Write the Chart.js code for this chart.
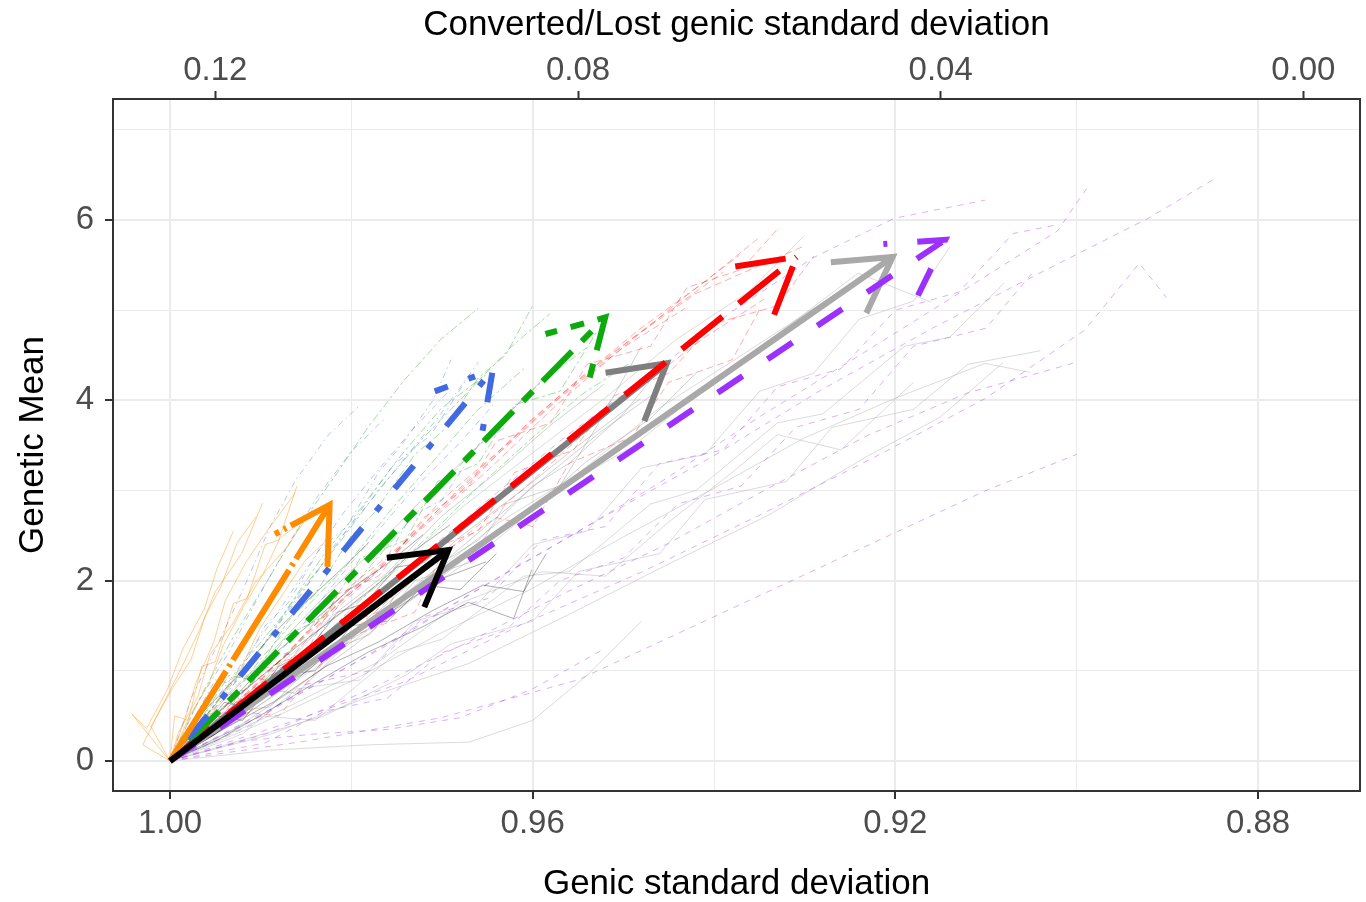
<!DOCTYPE html>
<html>
<head>
<meta charset="utf-8">
<script src="https://cdn.jsdelivr.net/npm/chart.js@4.4.0/dist/chart.umd.min.js"></script>
<style>
  html, body { margin: 0; padding: 0; background: #fff; }
  #wrap { width: 1366px; height: 902px; }
</style>
</head>
<body>
<div id="wrap"><canvas id="genChart"></canvas></div>
<script>
// tick values
const xMajorTicks = [0.88, 0.92, 0.96, 1.00];
const xMinorTicks = [0.90, 0.94, 0.98];
const topTicks = [0.00, 0.04, 0.08, 0.12];
const yMajorTicks = [0, 2, 4, 6];
const yMinorTicks = [1, 3, 5, 7];

// thick arrows: all start at (1, 0)
const arrowNames = ['lightgray', 'darkgray', 'purple', 'red', 'green', 'blue', 'orange', 'black'];
const arrowStart = [1.00, 0];
const arrowEndX = [0.9203, 0.9452, 0.9145, 0.9309, 0.9520, 0.9644, 0.9824, 0.9693];
const arrowEndY = [5.59, 4.41, 5.78, 5.59, 4.92, 4.34, 2.84, 2.34];

// thin replicate trajectories, [genic sd, genetic mean]
const lightGrayRuns = [
  [[1,0],[0.9911,0.61],[0.9821,1.28],[0.9731,1.91],[0.9641,2.62],[0.9551,3.18],[0.9461,3.91],[0.9371,4.49],[0.9281,5.08],[0.9201,5.62]],
  [[1,0],[0.9901,0.41],[0.9801,0.88],[0.9701,1.42],[0.9601,1.91],[0.9501,2.48],[0.9401,3.02],[0.9301,3.58],[0.9201,4.02],[0.9101,4.41],[0.9051,4.31]],
  [[1,0],[0.9921,0.69],[0.9841,1.41],[0.9761,2.02],[0.9681,2.79],[0.9601,3.41],[0.9521,4.02],[0.9441,4.68],[0.9361,5.21],[0.9301,5.82]],
  [[1,0],[0.9891,0.29],[0.9781,0.71],[0.9671,1.08],[0.9561,1.62],[0.9451,2.18],[0.9341,2.72],[0.9231,3.38],[0.9151,3.81],[0.9081,4.42]],
  [[1,0],[0.9916,0.52],[0.9831,1.09],[0.9746,1.71],[0.9661,2.28],[0.9571,3.02],[0.9491,3.48],[0.9401,4.21],[0.9311,4.88],[0.9241,5.41],[0.9161,5.09]],
  [[1,0],[0.9890,0.12],[0.9780,0.18],[0.9670,0.21],[0.9600,0.45],[0.9540,0.95],[0.9480,1.55]],
  [[1,0],[0.9880,0.55],[0.9770,1.10],[0.9680,1.75],[0.9590,2.10],[0.9520,2.05],[0.9450,2.65],[0.9380,3.20],[0.9330,3.62],[0.9260,3.45],[0.9180,4.20]],
  [[1,0],[0.9900,0.50],[0.9840,0.45],[0.9750,1.20],[0.9700,1.35],[0.9610,2.05],[0.9560,2.10],[0.9470,2.85],[0.9420,3.00],[0.9330,3.75],[0.9280,3.85],[0.9190,4.60],[0.9140,4.70],[0.9080,5.30]],
  [[1,0],[0.9880,0.35],[0.9830,0.50],[0.9740,0.95],[0.9690,1.30],[0.9600,1.55],[0.9550,2.10],[0.9460,2.30],[0.9410,2.90],[0.9320,3.10],[0.9270,3.70],[0.9180,3.90],[0.9120,4.40],[0.9040,4.55]],
  [[1,0],[0.9920,0.30],[0.9860,0.80],[0.9790,0.90],[0.9730,1.55],[0.9660,1.75],[0.9600,2.40],[0.9540,2.55],[0.9480,3.25],[0.9410,3.40],[0.9350,4.10],[0.9290,4.30],[0.9240,4.90],[0.9180,5.10],[0.9140,5.70]]
];
const darkGrayRuns = [
  [[1,0],[0.9941,0.51],[0.9881,0.98],[0.9821,1.61],[0.9761,2.08],[0.9701,2.71],[0.9641,3.19],[0.9581,3.72],[0.9521,4.18]],
  [[1,0],[0.9936,0.39],[0.9871,0.91],[0.9801,1.38],[0.9741,1.92],[0.9681,2.48],[0.9611,3.01],[0.9551,3.49],[0.9481,4.02]],
  [[1,0],[0.9946,0.62],[0.9891,1.18],[0.9836,1.76],[0.9781,2.29],[0.9721,2.91],[0.9661,3.48],[0.9611,4.02],[0.9561,4.49]],
  [[1,0],[0.9931,0.34],[0.9861,0.81],[0.9796,1.29],[0.9731,1.81],[0.9666,2.31],[0.9601,2.78],[0.9541,3.32],[0.9471,3.79],[0.9420,4.30]],
  [[1,0],[0.9925,0.45],[0.9855,0.95],[0.9788,1.48],[0.9720,2.02],[0.9652,2.60],[0.9590,3.12],[0.9525,3.65],[0.9460,4.12]],
  [[1,0],[0.9950,0.30],[0.9900,0.80],[0.9860,0.75],[0.9800,1.35],[0.9760,1.60],[0.9700,2.20],[0.9660,2.45],[0.9600,3.05],[0.9560,3.30],[0.9500,3.85],[0.9460,4.35]],
  [[1,0],[0.9930,0.55],[0.9890,0.60],[0.9830,1.20],[0.9780,1.40],[0.9730,2.00],[0.9670,2.20],[0.9630,2.85],[0.9570,3.05],[0.9530,3.70],[0.9480,4.60]]
];
const purpleRuns = [
  [[1,0],[0.9881,0.62],[0.9761,1.28],[0.9641,2.02],[0.9521,2.71],[0.9401,3.38],[0.9281,4.12],[0.9161,4.79],[0.9041,5.41],[0.8921,6.02],[0.8849,6.45]],
  [[1,0],[0.9901,0.49],[0.9791,1.12],[0.9681,1.78],[0.9571,2.42],[0.9461,3.08],[0.9351,3.81],[0.9241,4.49],[0.9131,5.18],[0.9021,5.88],[0.8989,6.35]],
  [[1,0],[0.9871,0.42],[0.9741,0.88],[0.9611,1.52],[0.9481,2.09],[0.9351,2.72],[0.9221,3.38],[0.9101,4.02],[0.8991,4.78],[0.8931,5.52],[0.8901,5.14]],
  [[1,0],[0.9891,0.31],[0.9781,0.79],[0.9671,1.32],[0.9561,1.88],[0.9451,2.41],[0.9341,3.02],[0.9231,3.61],[0.9121,4.08],[0.9001,4.42]],
  [[1,0],[0.9921,0.71],[0.9831,1.38],[0.9741,2.12],[0.9651,2.88],[0.9561,3.62],[0.9471,4.28],[0.9381,4.98],[0.9291,5.58],[0.9201,6.02],[0.9101,6.22]],
  [[1,0],[0.9851,0.22],[0.9701,0.48],[0.9550,0.90],[0.9400,1.60],[0.9250,2.30],[0.9100,3.00],[0.9000,3.40]],
  [[1,0],[0.9920,0.22],[0.9840,0.30],[0.9760,0.35],[0.9680,0.48],[0.9600,0.80],[0.9520,1.25]],
  [[1,0],[0.9910,0.40],[0.9850,0.85],[0.9780,1.00],[0.9720,1.60],[0.9650,1.80],[0.9590,2.45],[0.9520,2.60],[0.9460,3.30],[0.9390,3.45],[0.9330,4.15],[0.9260,4.35],[0.9200,5.00],[0.9130,5.20],[0.9070,5.85],[0.9020,5.95]],
  [[1,0],[0.9895,0.20],[0.9830,0.55],[0.9760,0.70],[0.9700,1.20],[0.9630,1.45],[0.9570,2.00],[0.9500,2.25],[0.9440,2.85],[0.9370,3.05],[0.9310,3.70],[0.9240,3.90],[0.9180,4.60],[0.9100,4.80],[0.9050,5.40]]
];
const redRuns = [
  [[1,0],[0.9931,0.61],[0.9862,1.28],[0.9791,1.92],[0.9722,2.58],[0.9651,3.21],[0.9581,3.88],[0.9512,4.49],[0.9441,5.08],[0.9372,5.61]],
  [[1,0],[0.9941,0.52],[0.9871,1.09],[0.9812,1.78],[0.9742,2.41],[0.9681,3.02],[0.9612,3.68],[0.9551,4.22],[0.9482,4.79],[0.9411,5.31],[0.9352,5.79]],
  [[1,0],[0.9921,0.68],[0.9851,1.41],[0.9776,2.08],[0.9711,2.72],[0.9641,3.38],[0.9571,4.02],[0.9501,4.58],[0.9432,5.02]],
  [[1,0],[0.9951,0.41],[0.9891,0.98],[0.9831,1.61],[0.9762,2.19],[0.9702,2.88],[0.9631,3.49],[0.9562,4.11],[0.9491,4.68],[0.9421,5.18],[0.9301,5.71]],
  [[1,0],[0.9936,0.64],[0.9866,1.22],[0.9801,1.94],[0.9731,2.51],[0.9666,3.12],[0.9601,3.79],[0.9531,4.38],[0.9461,4.91],[0.9390,5.42]],
  [[1,0],[0.9946,0.33],[0.9880,0.82],[0.9815,1.30],[0.9748,1.88],[0.9680,2.45],[0.9612,3.00],[0.9545,3.62],[0.9478,4.18],[0.9410,4.70],[0.9345,5.12]],
  [[1,0],[0.9960,0.35],[0.9905,0.92],[0.9870,0.85],[0.9820,1.45],[0.9760,1.70],[0.9725,2.30],[0.9660,2.55],[0.9620,3.20],[0.9555,3.45],[0.9510,4.05],[0.9450,4.30],[0.9400,4.85],[0.9330,5.05],[0.9290,5.60]],
  [[1,0],[0.9925,0.55],[0.9880,0.50],[0.9830,1.10],[0.9795,1.40],[0.9730,1.65],[0.9700,2.30],[0.9640,2.70],[0.9600,2.60],[0.9560,3.30],[0.9490,3.60],[0.9450,4.20],[0.9380,4.45],[0.9350,5.00]],
  [[1,0],[0.9950,0.60],[0.9915,0.95],[0.9850,1.20],[0.9815,1.85],[0.9770,2.05],[0.9720,2.70],[0.9670,3.05],[0.9640,3.55],[0.9580,3.75],[0.9540,4.40],[0.9470,4.60],[0.9430,5.25],[0.9370,5.45],[0.9330,5.90]]
];
const greenRuns = [
  [[1,0],[0.9951,0.62],[0.9904,1.19],[0.9861,1.82],[0.9814,2.41],[0.9769,3.02],[0.9721,3.58],[0.9669,4.12],[0.9622,4.61],[0.9581,4.96]],
  [[1,0],[0.9961,0.48],[0.9921,1.06],[0.9876,1.61],[0.9831,2.28],[0.9789,2.81],[0.9746,3.38],[0.9701,3.91],[0.9652,4.28]],
  [[1,0],[0.9941,0.46],[0.9891,0.94],[0.9842,1.52],[0.9791,2.02],[0.9741,2.61],[0.9689,3.18],[0.9641,3.72],[0.9592,4.19],[0.9541,4.58]],
  [[1,0],[0.9966,0.72],[0.9931,1.36],[0.9892,2.01],[0.9856,2.62],[0.9816,3.19],[0.9781,3.71],[0.9742,4.22],[0.9701,4.68],[0.9660,5.02]],
  [[1,0],[0.9946,0.51],[0.9901,1.12],[0.9852,1.68],[0.9806,2.16],[0.9756,2.79],[0.9711,3.31],[0.9662,3.88],[0.9610,4.35]],
  [[1,0],[0.9936,0.42],[0.9880,0.96],[0.9825,1.44],[0.9770,1.98],[0.9712,2.52],[0.9658,3.06],[0.9601,3.58],[0.9548,4.05],[0.9495,4.40]],
  [[1,0],[0.9970,0.40],[0.9935,0.95],[0.9910,0.90],[0.9870,1.55],[0.9840,1.85],[0.9800,2.50],[0.9775,2.75],[0.9730,3.40],[0.9700,3.65],[0.9660,4.25],[0.9630,4.50],[0.9600,5.05]],
  [[1,0],[0.9945,0.70],[0.9915,0.80],[0.9870,1.40],[0.9830,1.60],[0.9790,2.25],[0.9740,2.45],[0.9705,3.10],[0.9660,3.30],[0.9620,3.95],[0.9570,4.10],[0.9530,4.75]]
];
const blueRuns = [
  [[1,0],[0.9962,0.51],[0.9921,1.08],[0.9883,1.62],[0.9846,2.18],[0.9812,2.71],[0.9771,3.22],[0.9732,3.68],[0.9691,4.12]],
  [[1,0],[0.9971,0.62],[0.9936,1.19],[0.9902,1.83],[0.9871,2.38],[0.9839,2.91],[0.9801,3.42],[0.9762,3.81]],
  [[1,0],[0.9951,0.41],[0.9906,0.92],[0.9861,1.41],[0.9822,1.93],[0.9776,2.49],[0.9731,3.02],[0.9682,3.51],[0.9641,3.98]],
  [[1,0],[0.9976,0.71],[0.9946,1.32],[0.9916,1.98],[0.9889,2.61],[0.9861,3.12],[0.9826,3.61],[0.9790,3.95]],
  [[1,0],[0.9956,0.56],[0.9914,1.02],[0.9871,1.66],[0.9836,2.12],[0.9791,2.76],[0.9754,3.28],[0.9712,3.62],[0.9668,4.31]],
  [[1,0],[0.9966,0.38],[0.9930,0.85],[0.9891,1.37],[0.9855,1.85],[0.9818,2.40],[0.9779,2.88],[0.9741,3.36],[0.9705,3.80],[0.9660,4.42]],
  [[1,0],[0.9975,0.45],[0.9950,0.90],[0.9930,0.85],[0.9895,1.50],[0.9870,1.75],[0.9835,2.35],[0.9805,2.60],[0.9770,3.20],[0.9745,3.50],[0.9710,4.00],[0.9690,4.45]],
  [[1,0],[0.9955,0.30],[0.9920,0.75],[0.9880,1.20],[0.9850,1.15],[0.9810,1.80],[0.9770,2.10],[0.9735,2.70],[0.9700,2.90],[0.9660,3.50],[0.9630,3.70]]
];
const orangeRuns = [
  [[1,0],[0.9985,0.42],[0.9971,0.88],[0.9952,1.31],[0.9939,1.78],[0.9916,2.21],[0.9891,2.58],[0.9862,2.97]],
  [[1,0],[0.9991,0.31],[0.9969,0.72],[0.9956,1.18],[0.9931,1.52],[0.9906,1.98],[0.9872,2.36],[0.9843,2.79]],
  [[1,0],[1.0021,0.38],[0.9996,0.83],[0.9977,1.12],[0.9961,1.61],[0.9944,1.93],[0.9926,2.42],[0.9905,2.71]],
  [[1,0],[0.9979,0.49],[0.9957,0.86],[0.9941,1.29],[0.9919,1.71],[0.9897,2.08],[0.9879,2.47],[0.9851,2.68]],
  [[1,0],[1.0042,0.52],[1.0026,0.36],[1.0003,0.79],[0.9986,1.24],[0.9962,1.69],[0.9948,2.14],[0.9930,2.55]],
  [[1,0],[0.9976,0.26],[0.9951,0.61],[0.9922,1.02],[0.9901,1.47],[0.9877,1.83],[0.9852,2.21],[0.9823,2.49]],
  [[1,0],[1.0030,0.18],[1.0012,0.55],[0.9990,0.98],[0.9968,1.44],[0.9950,1.88],[0.9921,2.30],[0.9898,2.86]],
  [[1,0],[0.9995,0.50],[0.9980,0.45],[0.9965,1.05],[0.9950,1.10],[0.9930,1.75],[0.9915,1.80],[0.9895,2.40],[0.9880,2.45],[0.9860,3.05]]
];
const blackRuns = [
  [[1,0],[0.9961,0.41],[0.9921,0.79],[0.9881,1.22],[0.9841,1.56],[0.9801,1.91],[0.9761,2.18],[0.9721,2.51]],
  [[1,0],[0.9951,0.29],[0.9901,0.71],[0.9851,0.98],[0.9801,1.41],[0.9751,1.69],[0.9701,2.02],[0.9651,2.21]],
  [[1,0],[0.9966,0.52],[0.9931,0.88],[0.9891,1.36],[0.9856,1.71],[0.9816,2.08],[0.9781,2.42]],
  [[1,0],[0.9946,0.24],[0.9891,0.56],[0.9836,0.89],[0.9781,1.21],[0.9721,1.49],[0.9671,1.76],[0.9621,1.58],[0.9601,2.12]],
  [[1,0],[0.9956,0.46],[0.9911,0.84],[0.9861,1.26],[0.9816,1.61],[0.9771,1.96],[0.9731,2.33],[0.9691,2.62]],
  [[1,0],[0.9940,0.36],[0.9885,0.66],[0.9828,1.05],[0.9770,1.32],[0.9712,1.66],[0.9655,1.95],[0.9610,1.88],[0.9585,2.30]],
  [[1,0],[0.9970,0.30],[0.9940,0.65],[0.9915,0.60],[0.9880,1.05],[0.9850,1.20],[0.9815,1.65],[0.9785,1.75],[0.9750,2.15],[0.9720,2.20],[0.9680,2.55]],
  [[1,0],[0.9950,0.50],[0.9920,0.45],[0.9880,0.95],[0.9840,1.00],[0.9800,1.50],[0.9760,1.55],[0.9720,1.95],[0.9680,1.90],[0.9640,2.30]]
];

// look per group
const groupStyle = {
  lightgray: { color: '#A9A9A9', thin: 'rgba(160,160,160,0.38)', dash: [], thinDash: [] },
  darkgray:  { color: '#7F7F7F', thin: 'rgba(127,127,127,0.35)', dash: [], thinDash: [] },
  purple:    { color: '#9B30FF', thin: 'rgba(155,48,255,0.38)', dash: [30, 30], thinDash: [6, 6] },
  red:       { color: '#FF0000', thin: 'rgba(255,0,0,0.32)', dash: [52, 21], thinDash: [7, 4] },
  green:     { color: '#0DAA0D', thin: 'rgba(13,170,13,0.38)', dash: [14, 14, 42, 14], thinDash: [3, 3, 8, 3] },
  blue:      { color: '#4169E1', thin: 'rgba(65,105,225,0.38)', dash: [7, 22, 30, 22], thinDash: [1.5, 4, 6, 4] },
  orange:    { color: '#FF8C00', thin: 'rgba(255,140,0,0.42)', dash: [106, 5, 3, 5], thinDash: [] },
  black:     { color: '#000000', thin: 'rgba(0,0,0,0.32)', dash: [], thinDash: [] }
};
const thinRuns = {
  lightgray: lightGrayRuns, darkgray: darkGrayRuns, purple: purpleRuns, red: redRuns,
  green: greenRuns, blue: blueRuns, orange: orangeRuns, black: blackRuns
};

const datasets = [];
arrowNames.forEach(name => {
  thinRuns[name].forEach(run => {
    datasets.push({
      data: run.map(([x, y]) => ({ x, y })),
      borderColor: groupStyle[name].thin,
      borderWidth: 1,
      borderDash: groupStyle[name].thinDash,
      pointRadius: 0,
      tension: 0
    });
  });
});
arrowNames.forEach((name, i) => {
  datasets.push({
    data: [{ x: arrowStart[0], y: arrowStart[1] }, { x: arrowEndX[i], y: arrowEndY[i] }],
    borderColor: groupStyle[name].color,
    borderWidth: 6,
    borderDash: groupStyle[name].dash,
    borderCapStyle: 'butt',
    pointRadius: 0,
    head: true
  });
});
// later datasets on top
datasets.forEach((d, i) => { d.order = datasets.length - i; });

const isIn = (list, v) => list.some(t => Math.abs(t - v) < 1e-9);

// open arrowhead at the end of each thick segment
const arrowHeads = {
  id: 'arrowHeads',
  afterDatasetDraw(chart, args) {
    const ds = chart.data.datasets[args.index];
    if (!ds.head) return;
    const pts = args.meta.data;
    const a = pts[0], b = pts[pts.length - 1];
    const ang = Math.atan2(b.y - a.y, b.x - a.x);
    const len = 62, spread = Math.PI / 6;
    const ctx = chart.ctx;
    ctx.save();
    ctx.strokeStyle = ds.borderColor;
    ctx.lineWidth = ds.borderWidth;
    ctx.setLineDash(ds.borderDash || []);
    ctx.lineJoin = 'miter';
    ctx.lineCap = 'butt';
    ctx.beginPath();
    ctx.moveTo(b.x - len * Math.cos(ang - spread), b.y - len * Math.sin(ang - spread));
    ctx.lineTo(b.x, b.y);
    ctx.lineTo(b.x - len * Math.cos(ang + spread), b.y - len * Math.sin(ang + spread));
    ctx.stroke();
    ctx.restore();
  }
};

const panelBorder = {
  id: 'panelBorder',
  afterDraw(chart) {
    const { ctx, chartArea: a } = chart;
    ctx.save();
    ctx.strokeStyle = '#333333';
    ctx.lineWidth = 2;
    ctx.strokeRect(a.left, a.top, a.right - a.left, a.bottom - a.top);
    ctx.restore();
  }
};

Chart.defaults.font.family = "'Liberation Sans', Arial, sans-serif";

const ctx = document.getElementById('genChart').getContext('2d');
new Chart(ctx, {
  type: 'line',
  data: { datasets },
  plugins: [arrowHeads, panelBorder],
  options: {
    responsive: true,
    maintainAspectRatio: false,
    animation: false,
    layout: { padding: { right: 6 } },
    plugins: { legend: { display: false }, tooltip: { enabled: false } },
    scales: {
      x: {
        type: 'linear',
        position: 'bottom',
        reverse: true,
        min: 0.86875,
        max: 1.00629,
        afterBuildTicks: s => { s.ticks = xMajorTicks.concat(xMinorTicks).sort((p, q) => p - q).map(v => ({ value: v })); },
        afterFit: s => { s.height = 111; },
        ticks: {
          color: '#4D4D4D',
          font: { size: 33 },
          padding: 5,
          maxRotation: 0,
          autoSkip: false,
          callback: v => isIn(xMajorTicks, v) ? v.toFixed(2) : ''
        },
        grid: {
          color: '#EBEBEB',
          lineWidth: c => isIn(xMajorTicks, c.tick.value) ? 2 : 1,
          tickLength: 8,
          tickWidth: 2,
          tickColor: c => isIn(xMajorTicks, c.tick.value) ? '#333333' : 'rgba(0,0,0,0)'
        },
        border: { display: false },
        title: {
          display: true,
          text: 'Genic standard deviation',
          color: '#000000',
          font: { size: 35, lineHeight: 1 },
          padding: { top: 0, bottom: 0 }
        }
      },
      x2: {
        type: 'linear',
        position: 'top',
        reverse: true,
        min: -0.00625,
        max: 0.13129,
        afterBuildTicks: s => { s.ticks = topTicks.map(v => ({ value: v })); },
        afterFit: s => { s.height = 99; },
        ticks: {
          color: '#4D4D4D',
          font: { size: 33 },
          padding: 0,
          maxRotation: 0,
          autoSkip: false,
          callback: v => v.toFixed(2)
        },
        grid: { drawOnChartArea: false, tickLength: 8, tickWidth: 2, tickColor: '#333333' },
        border: { display: false },
        title: {
          display: true,
          text: 'Converted/Lost genic standard deviation',
          color: '#000000',
          font: { size: 35, lineHeight: 1 },
          padding: { top: 8, bottom: 0 }
        }
      },
      y: {
        type: 'linear',
        min: -0.3327,
        max: 7.342,
        afterBuildTicks: s => { s.ticks = yMajorTicks.concat(yMinorTicks).sort((p, q) => p - q).map(v => ({ value: v })); },
        afterFit: s => { s.width = 113; },
        ticks: {
          color: '#4D4D4D',
          font: { size: 33 },
          padding: 11,
          autoSkip: false,
          callback: v => isIn(yMajorTicks, v) ? String(v) : ''
        },
        grid: {
          color: '#EBEBEB',
          lineWidth: c => isIn(yMajorTicks, c.tick.value) ? 2 : 1,
          tickLength: 8,
          tickWidth: 2,
          tickColor: c => isIn(yMajorTicks, c.tick.value) ? '#333333' : 'rgba(0,0,0,0)'
        },
        border: { display: false },
        title: {
          display: true,
          text: 'Genetic Mean',
          color: '#000000',
          font: { size: 35, lineHeight: 1 },
          padding: { top: 16, bottom: 0 }
        }
      }
    }
  }
});
</script>
</body>
</html>
